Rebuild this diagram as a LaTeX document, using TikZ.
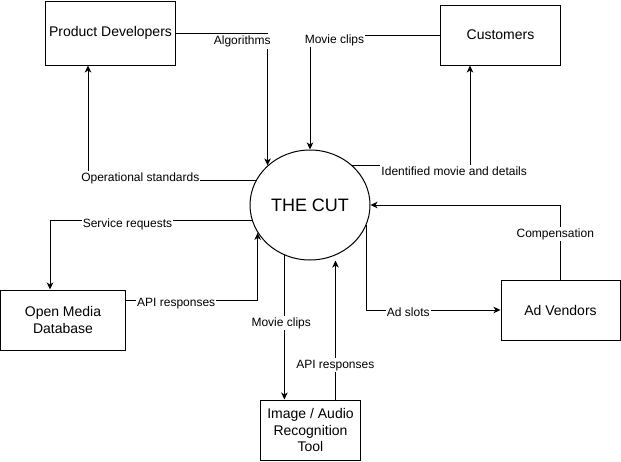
\documentclass[tikz,border=0pt]{standalone}
\usepackage{fontspec}
\setmainfont{Liberation Sans}
\usetikzlibrary{arrows.meta, shapes.geometric}

\tikzset{
	entity/.style={draw, line width=1pt, minimum height=60pt, inner sep=2pt, align=center, font=\fontsize{14}{16.5}\selectfont},
	cutnode/.style={draw, ellipse, line width=1pt, minimum width=120pt, minimum height=110pt, inner sep=0pt, font=\fontsize{18}{20}\selectfont},
	dataflow/.style={line width=1pt, -{Stealth[length=7pt, width=6.5pt, inset=2pt]}},
	flowlabel/.style={fill=white, inner xsep=1pt, inner ysep=1.5pt, text height=8.6pt, text depth=2.5pt, font=\fontsize{12}{14}\selectfont},
}

\begin{document}
\begin{tikzpicture}[x=1pt, y=-1pt]
	\useasboundingbox (0,0) rectangle (621,461);

	\node[entity, minimum width=130pt, minimum height=64pt] (dev) at (110.5,33) {Product Developers};
	\node[entity, minimum width=120pt] (cust) at (500.5,35) {Customers};
	\node[cutnode] (cut) at (310,205) {THE CUT};
	\node[entity, minimum width=125pt] (omdb) at (63,320) {Open Media\\Database};
	\node[entity, minimum width=100pt] (tool) at (310.5,430) {Image / Audio\\Recognition\\Tool};
	\node[entity, minimum width=119pt] (adv) at (560.5,310) {Ad Vendors};

	\draw[dataflow] (dev.east) -| (cut.137) node[flowlabel] at (242.2,41.5) {Algorithms};
	\draw[dataflow] (cust.west) -| (cut.north) node[flowlabel] at (334.5,40) {Movie clips};
	\draw[dataflow] (cut.156) -| ([xshift=-22.5pt]dev.south) node[flowlabel] at (140.3,178.2) {Operational standards};
	\draw[dataflow] (cut.43) -| ([xshift=-30.5pt]cust.south) node[flowlabel] at (454.2,172) {Identified movie and details};
	\draw[dataflow] (cut.195) -| ([xshift=-13pt]omdb.north) node[flowlabel] at (127.5,224) {Service requests};
	\draw[dataflow] ([yshift=20pt]omdb.east) -| (cut.208) node[flowlabel] at (176.2,303) {API responses};
	\draw[dataflow] (cut.243) -- (cut.243 |- tool.north) node[flowlabel] at (281.2,323) {Movie clips};
	\draw[dataflow] ([xshift=25pt]tool.north) -- ([xshift=25pt]tool.north |- cut.south) node[flowlabel] at (335.3,365) {API responses};
	\draw[dataflow] (cut.341) |- (adv.west) node[flowlabel] at (408.3,313.7) {Ad slots};
	\draw[dataflow] (adv.north) |- (cut.east) node[flowlabel] at (555.3,234) {Compensation};
\end{tikzpicture}
\end{document}
